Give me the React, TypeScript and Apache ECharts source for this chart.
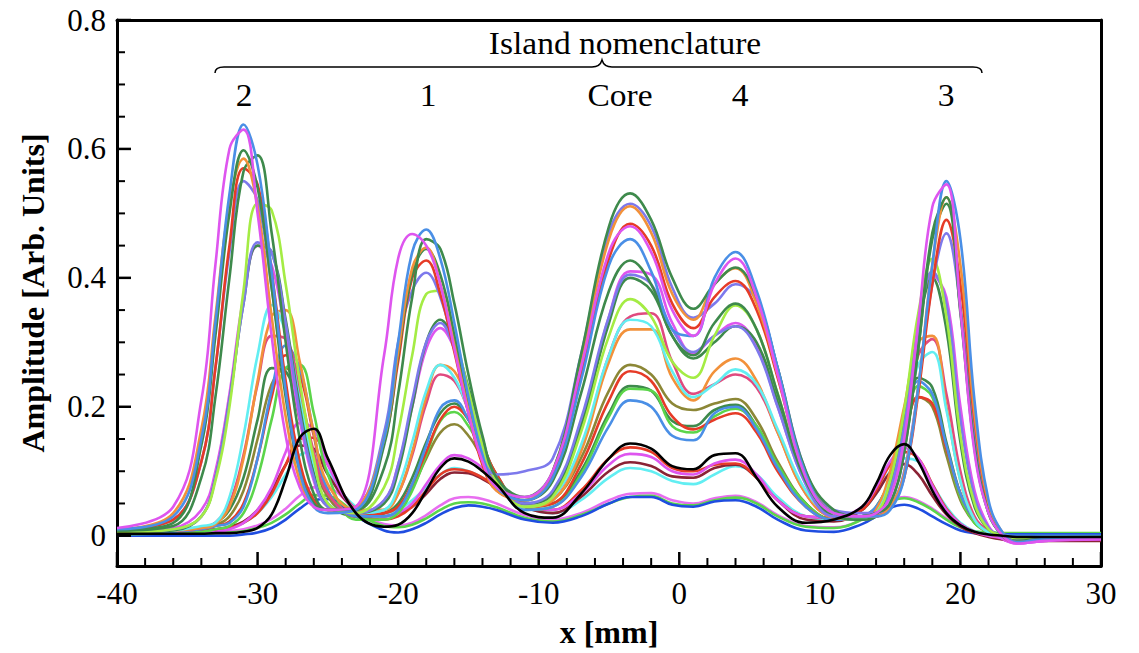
import React, { useEffect, useRef } from "react";
import * as echarts from "echarts";

// Shared sampling positions along x [mm]
const xGrid = [
  -40, -36, -34, -33, -32, -31, -30, -29, -28, -27, -26, -25,
  -23, -21, -20, -19, -18, -17, -16, -15, -14, -13, -11,
  -9, -7, -5, -3.5, -2, -0.5, 1, 2.5, 4, 5.5, 7, 9, 11,
  13, 14, 15, 16, 17, 18, 19, 20, 21, 22, 23, 24, 26, 30,
];

// Tallest profiles
const magentaA = [
  0.012, 0.045, 0.21, 0.42, 0.6, 0.63, 0.5, 0.31, 0.155, 0.075, 0.045, 0.04,
  0.045, 0.28, 0.43, 0.468, 0.45, 0.39, 0.29, 0.19, 0.115, 0.075, 0.06,
  0.1, 0.26, 0.44, 0.48, 0.44, 0.35, 0.31, 0.39, 0.43, 0.37, 0.25, 0.09, 0.035,
  0.03, 0.035, 0.06, 0.15, 0.33, 0.51, 0.545, 0.35, 0.13, 0.035, 0.0, -0.012, -0.008, -0.005,
];
const blueA = [
  0.01, 0.03, 0.15, 0.33, 0.53, 0.638, 0.575, 0.41, 0.225, 0.1, 0.045, 0.035,
  0.04, 0.15, 0.3, 0.44, 0.475, 0.43, 0.33, 0.215, 0.125, 0.075, 0.055,
  0.09, 0.24, 0.42, 0.46, 0.41, 0.32, 0.31, 0.4, 0.44, 0.38, 0.26, 0.095, 0.035,
  0.03, 0.03, 0.04, 0.09, 0.23, 0.42, 0.55, 0.46, 0.21, 0.055, 0.005, -0.01, -0.005, -0.003,
];
const darkGreenA = [
  0.008, 0.02, 0.14, 0.31, 0.5, 0.598, 0.54, 0.385, 0.215, 0.1, 0.05, 0.04,
  0.04, 0.105, 0.22, 0.37, 0.46, 0.445, 0.36, 0.25, 0.155, 0.09, 0.06,
  0.1, 0.28, 0.48, 0.531, 0.49, 0.4, 0.352, 0.39, 0.416, 0.37, 0.26, 0.1, 0.04,
  0.03, 0.035, 0.05, 0.13, 0.29, 0.47, 0.525, 0.35, 0.14, 0.035, 0.0, -0.01, -0.006, -0.004,
];
const orangeA = [
  0.01, 0.035, 0.165, 0.34, 0.515, 0.585, 0.51, 0.34, 0.185, 0.085, 0.045, 0.04,
  0.045, 0.15, 0.285, 0.415, 0.447, 0.39, 0.295, 0.195, 0.115, 0.07, 0.055,
  0.1, 0.27, 0.46, 0.511, 0.47, 0.375, 0.335, 0.39, 0.415, 0.36, 0.25, 0.095, 0.035,
  0.03, 0.03, 0.045, 0.095, 0.23, 0.42, 0.525, 0.42, 0.19, 0.05, 0.005, -0.01, -0.006, -0.004,
];
const darkGreenB = [
  0.008, 0.015, 0.09, 0.215, 0.4, 0.565, 0.59, 0.47, 0.3, 0.15, 0.065, 0.04,
  0.04, 0.14, 0.28, 0.405, 0.445, 0.405, 0.31, 0.2, 0.12, 0.075, 0.055,
  0.085, 0.22, 0.38, 0.427, 0.39, 0.31, 0.28, 0.33, 0.36, 0.32, 0.22, 0.085, 0.035,
  0.03, 0.035, 0.05, 0.13, 0.29, 0.46, 0.515, 0.345, 0.135, 0.035, 0.0, -0.008, -0.005, -0.004,
];
const redA = [
  0.01, 0.025, 0.115, 0.26, 0.45, 0.57, 0.545, 0.41, 0.24, 0.115, 0.055, 0.04,
  0.045, 0.145, 0.27, 0.4, 0.427, 0.375, 0.285, 0.19, 0.11, 0.07, 0.055,
  0.095, 0.25, 0.43, 0.484, 0.45, 0.36, 0.322, 0.37, 0.395, 0.35, 0.245, 0.095, 0.035,
  0.03, 0.03, 0.045, 0.09, 0.22, 0.39, 0.49, 0.39, 0.18, 0.045, 0.0, -0.01, -0.006, -0.004,
];
const lavenderA = [
  0.01, 0.025, 0.115, 0.26, 0.44, 0.55, 0.52, 0.385, 0.225, 0.105, 0.05, 0.04,
  0.045, 0.16, 0.3, 0.38, 0.408, 0.37, 0.29, 0.195, 0.12, 0.095, 0.1,
  0.12, 0.28, 0.47, 0.515, 0.48, 0.385, 0.338, 0.36, 0.39, 0.365, 0.26, 0.1, 0.04,
  0.035, 0.035, 0.045, 0.1, 0.23, 0.39, 0.469, 0.355, 0.16, 0.045, 0.003, -0.008, -0.005, -0.004,
];

// Second tier
const lightGreenB = [
  0.005, 0.01, 0.03, 0.085, 0.2, 0.38, 0.515, 0.505, 0.39, 0.24, 0.12, 0.05,
  0.035, 0.075, 0.16, 0.28, 0.375, 0.38, 0.315, 0.225, 0.14, 0.085, 0.045,
  0.06, 0.16, 0.31, 0.367, 0.34, 0.27, 0.245, 0.31, 0.357, 0.32, 0.22, 0.09, 0.035,
  0.03, 0.035, 0.085, 0.195, 0.345, 0.43, 0.34, 0.155, 0.05, 0.01, 0.0, -0.005, -0.004, -0.003,
];
const lavenderB = [
  0.005, 0.01, 0.03, 0.09, 0.21, 0.36, 0.455, 0.44, 0.33, 0.19, 0.09, 0.045,
  0.035, 0.055, 0.11, 0.21, 0.3, 0.33, 0.29, 0.22, 0.145, 0.085, 0.05,
  0.07, 0.18, 0.34, 0.405, 0.39, 0.32, 0.285, 0.31, 0.325, 0.29, 0.2, 0.08, 0.03,
  0.03, 0.03, 0.07, 0.17, 0.32, 0.41, 0.36, 0.18, 0.06, 0.012, -0.002, -0.006, -0.004, -0.003,
];
const darkGreenC = [
  0.005, 0.008, 0.03, 0.09, 0.21, 0.36, 0.45, 0.44, 0.335, 0.2, 0.095, 0.045,
  0.035, 0.05, 0.1, 0.2, 0.3, 0.335, 0.3, 0.23, 0.15, 0.09, 0.05,
  0.065, 0.17, 0.33, 0.4, 0.38, 0.31, 0.275, 0.3, 0.325, 0.3, 0.21, 0.085, 0.03,
  0.025, 0.03, 0.08, 0.185, 0.325, 0.4, 0.32, 0.145, 0.045, 0.01, 0.0, -0.004, -0.003, -0.002,
];
const magentaB = [
  0.006, 0.012, 0.04, 0.1, 0.22, 0.37, 0.45, 0.42, 0.31, 0.18, 0.085, 0.045,
  0.035, 0.055, 0.11, 0.2, 0.29, 0.322, 0.29, 0.22, 0.14, 0.085, 0.05,
  0.065, 0.17, 0.34, 0.41, 0.405, 0.33, 0.283, 0.31, 0.33, 0.295, 0.2, 0.08, 0.03,
  0.03, 0.03, 0.065, 0.16, 0.31, 0.405, 0.37, 0.2, 0.07, 0.015, -0.005, -0.012, -0.008, -0.006,
];

// Third tier
const cyanC = [
  0.005, 0.008, 0.015, 0.02, 0.06, 0.155, 0.28, 0.358, 0.315, 0.21, 0.11, 0.05,
  0.035, 0.04, 0.075, 0.145, 0.225, 0.265, 0.245, 0.195, 0.135, 0.085, 0.045,
  0.06, 0.14, 0.28, 0.335, 0.325, 0.255, 0.215, 0.235, 0.258, 0.235, 0.165, 0.07, 0.03,
  0.025, 0.035, 0.085, 0.17, 0.265, 0.285, 0.195, 0.085, 0.025, 0.005, 0.0, -0.003, -0.002, -0.002,
];
const orangeC = [
  0.005, 0.008, 0.012, 0.018, 0.045, 0.12, 0.24, 0.34, 0.35, 0.27, 0.16, 0.08,
  0.04, 0.04, 0.065, 0.13, 0.215, 0.265, 0.255, 0.205, 0.145, 0.09, 0.045,
  0.055, 0.13, 0.27, 0.32, 0.32, 0.245, 0.21, 0.255, 0.275, 0.24, 0.16, 0.065, 0.028,
  0.025, 0.04, 0.1, 0.2, 0.3, 0.31, 0.2, 0.085, 0.025, 0.005, -0.002, -0.006, -0.005, -0.004,
];
const crimsonC = [
  0.005, 0.008, 0.012, 0.02, 0.05, 0.125, 0.235, 0.31, 0.305, 0.225, 0.13, 0.065,
  0.035, 0.04, 0.065, 0.125, 0.205, 0.25, 0.24, 0.195, 0.14, 0.09, 0.045,
  0.06, 0.135, 0.28, 0.34, 0.345, 0.27, 0.22, 0.235, 0.25, 0.23, 0.16, 0.065, 0.028,
  0.025, 0.035, 0.085, 0.175, 0.28, 0.305, 0.22, 0.1, 0.03, 0.008, 0.0, -0.004, -0.003, -0.003,
];

// Fourth tier
const blueD = [
  0.004, 0.006, 0.01, 0.015, 0.02, 0.045, 0.12, 0.225, 0.295, 0.26, 0.16, 0.07,
  0.03, 0.03, 0.04, 0.08, 0.14, 0.198, 0.21, 0.18, 0.135, 0.09, 0.04,
  0.045, 0.09, 0.17, 0.21, 0.2, 0.155, 0.148, 0.19, 0.2, 0.165, 0.105, 0.045, 0.025,
  0.03, 0.045, 0.085, 0.16, 0.24, 0.22, 0.14, 0.065, 0.025, 0.008, 0.002, 0.0, 0.0, 0.0,
];
const redD = [
  0.004, 0.006, 0.01, 0.015, 0.022, 0.05, 0.12, 0.215, 0.28, 0.25, 0.155, 0.07,
  0.03, 0.035, 0.045, 0.08, 0.13, 0.18, 0.2, 0.18, 0.14, 0.095, 0.045,
  0.05, 0.11, 0.21, 0.255, 0.24, 0.185, 0.165, 0.18, 0.19, 0.16, 0.1, 0.045, 0.025,
  0.03, 0.04, 0.075, 0.145, 0.215, 0.205, 0.135, 0.065, 0.025, 0.008, 0.0, -0.004, -0.004, -0.004,
];
const greenD = [
  0.002, 0.004, 0.006, 0.01, 0.015, 0.035, 0.09, 0.18, 0.26, 0.265, 0.19, 0.095,
  0.025, 0.025, 0.035, 0.07, 0.125, 0.178, 0.192, 0.17, 0.13, 0.09, 0.04,
  0.045, 0.095, 0.185, 0.228, 0.225, 0.17, 0.16, 0.185, 0.197, 0.17, 0.11, 0.05, 0.025,
  0.028, 0.04, 0.08, 0.155, 0.232, 0.215, 0.135, 0.06, 0.02, 0.006, 0.0, -0.003, -0.003, -0.003,
];
const darkGreenD = [
  0.004, 0.006, 0.012, 0.02, 0.04, 0.09, 0.18, 0.26, 0.255, 0.18, 0.1, 0.05,
  0.03, 0.035, 0.05, 0.09, 0.145, 0.19, 0.205, 0.18, 0.14, 0.095, 0.045,
  0.05, 0.1, 0.19, 0.232, 0.225, 0.178, 0.17, 0.195, 0.203, 0.17, 0.11, 0.05, 0.025,
  0.03, 0.045, 0.09, 0.17, 0.245, 0.23, 0.145, 0.065, 0.022, 0.006, 0.0, -0.002, -0.002, -0.002,
];
const oliveD = [
  0.004, 0.006, 0.01, 0.016, 0.03, 0.07, 0.15, 0.235, 0.26, 0.21, 0.125, 0.06,
  0.03, 0.035, 0.045, 0.075, 0.12, 0.16, 0.173, 0.155, 0.12, 0.085, 0.045,
  0.055, 0.12, 0.225, 0.265, 0.25, 0.205, 0.195, 0.205, 0.212, 0.18, 0.115, 0.05, 0.025,
  0.028, 0.04, 0.08, 0.15, 0.215, 0.2, 0.125, 0.055, 0.02, 0.005, 0.0, -0.002, -0.002, -0.002,
];

// Fifth tier
const blackE = [
  0.003, 0.003, 0.003, 0.004, 0.004, 0.006, 0.012, 0.033, 0.088, 0.152, 0.166, 0.12,
  0.035, 0.014, 0.017, 0.035, 0.07, 0.105, 0.12, 0.115, 0.1, 0.08, 0.035,
  0.028, 0.065, 0.12, 0.143, 0.135, 0.108, 0.103, 0.125, 0.128, 0.09, 0.045, 0.02, 0.025,
  0.045, 0.08, 0.125, 0.142, 0.115, 0.07, 0.035, 0.016, 0.006, 0.002, 0.0, -0.002, -0.002, -0.002,
];
const magentaE = [
  0.004, 0.004, 0.005, 0.006, 0.01, 0.02, 0.04, 0.075, 0.13, 0.175, 0.165, 0.11,
  0.04, 0.03, 0.035, 0.05, 0.08, 0.11, 0.125, 0.12, 0.105, 0.085, 0.05,
  0.04, 0.065, 0.11, 0.127, 0.122, 0.1, 0.095, 0.112, 0.118, 0.095, 0.055, 0.03, 0.028,
  0.045, 0.075, 0.115, 0.136, 0.12, 0.078, 0.04, 0.018, 0.006, 0.0, -0.004, -0.01, -0.006, -0.004,
];
const redE = [
  0.006, 0.006, 0.007, 0.008, 0.012, 0.02, 0.035, 0.065, 0.11, 0.15, 0.152, 0.11,
  0.04, 0.025, 0.03, 0.045, 0.07, 0.095, 0.103, 0.1, 0.09, 0.075, 0.045,
  0.04, 0.07, 0.12, 0.137, 0.13, 0.105, 0.1, 0.11, 0.112, 0.09, 0.055, 0.03, 0.028,
  0.04, 0.07, 0.11, 0.13, 0.12, 0.08, 0.042, 0.018, 0.006, 0.0, -0.002, -0.004, -0.004, -0.004,
];
const maroonE = [
  0.005, 0.006, 0.008, 0.01, 0.014, 0.022, 0.04, 0.07, 0.11, 0.14, 0.135, 0.095,
  0.04, 0.03, 0.035, 0.045, 0.065, 0.088, 0.098, 0.097, 0.088, 0.075, 0.045,
  0.035, 0.06, 0.1, 0.114, 0.108, 0.092, 0.09, 0.105, 0.11, 0.09, 0.055, 0.025, 0.022,
  0.04, 0.065, 0.098, 0.111, 0.095, 0.062, 0.033, 0.014, 0.004, -0.002, -0.006, -0.008, -0.008, -0.008,
];
const cyanE = [
  0.004, 0.005, 0.006, 0.008, 0.012, 0.02, 0.035, 0.06, 0.095, 0.125, 0.13, 0.1,
  0.045, 0.035, 0.04, 0.055, 0.075, 0.095, 0.105, 0.1, 0.09, 0.075, 0.045,
  0.035, 0.055, 0.09, 0.105, 0.1, 0.085, 0.08, 0.095, 0.108, 0.095, 0.06, 0.03, 0.025,
  0.04, 0.065, 0.1, 0.12, 0.115, 0.08, 0.045, 0.02, 0.007, 0.002, 0.0, -0.002, -0.002, -0.002,
];

// Lowest tier
const blueF = [
  0.0, 0.0, 0.0, 0.0, 0.0, 0.002, 0.005, 0.012, 0.025, 0.042, 0.055, 0.057,
  0.03, 0.008, 0.005, 0.01, 0.02, 0.033, 0.043, 0.047, 0.045, 0.04, 0.025,
  0.02, 0.03, 0.05, 0.06, 0.06, 0.048, 0.045, 0.053, 0.055, 0.045, 0.025, 0.008, 0.006,
  0.018, 0.03, 0.043, 0.048, 0.042, 0.03, 0.018, 0.008, 0.004, 0.002, 0.002, 0.002, 0.002, 0.002,
];
const greenF = [
  0.003, 0.003, 0.003, 0.004, 0.005, 0.007, 0.012, 0.02, 0.033, 0.05, 0.063, 0.062,
  0.035, 0.015, 0.013, 0.017, 0.027, 0.04, 0.05, 0.052, 0.05, 0.044, 0.028,
  0.022, 0.032, 0.05, 0.06, 0.062, 0.05, 0.047, 0.055, 0.059, 0.05, 0.03, 0.014, 0.012,
  0.025, 0.04, 0.053, 0.058, 0.052, 0.04, 0.025, 0.013, 0.007, 0.005, 0.004, 0.004, 0.004, 0.004,
];
const magentaF = [
  0.004, 0.004, 0.004, 0.005, 0.007, 0.01, 0.016, 0.026, 0.042, 0.062, 0.075, 0.074,
  0.04, 0.018, 0.016, 0.02, 0.032, 0.047, 0.058, 0.06, 0.057, 0.05, 0.032,
  0.025, 0.035, 0.055, 0.065, 0.066, 0.055, 0.05, 0.058, 0.062, 0.052, 0.032, 0.015, 0.013,
  0.025, 0.04, 0.055, 0.06, 0.054, 0.042, 0.027, 0.014, 0.005, 0.0, -0.006, -0.012, -0.008, -0.006,
];

// Axis ranges and tick positions
const X_MIN = -40;
const X_MAX = 30;
const Y_MIN = -0.047;
const Y_MAX = 0.8;
const xMajorTicks = [-40, -30, -20, -10, 0, 10, 20, 30];
const xMinorTicks = [
  -38, -36, -34, -32, -28, -26, -24, -22, -18, -16, -14, -12, -8, -6, -4, -2,
  2, 4, 6, 8, 12, 14, 16, 18, 22, 24, 26, 28,
];
const yMajorTicks = [0, 0.2, 0.4, 0.6, 0.8];
const yMinorTicks = [0.05, 0.1, 0.15, 0.25, 0.3, 0.35, 0.45, 0.5, 0.55, 0.65, 0.7, 0.75];

// Island labels above the profiles
const islandLabels = ["2", "1", "Core", "4", "3"];
const islandLabelX = [244, 428, 620, 740, 946];

const C = {
  magenta: "#de55ef",
  blue: "#4a8fe6",
  darkGreen: "#3e8a4c",
  orange: "#f2913a",
  red: "#e63b27",
  lavender: "#7d79ec",
  lightGreen: "#a4ec44",
  cyan: "#62eef2",
  crimson: "#e04a7f",
  olive: "#8c8736",
  maroon: "#8a2335",
  black: "#000000",
  brightBlue: "#1f4de0",
  green: "#5bd54a",
  lightMagenta: "#e86ef0",
};

const traces: { values: number[]; color: string }[] = [
  { values: magentaF, color: C.lightMagenta },
  { values: greenF, color: C.green },
  { values: blueF, color: C.brightBlue },
  { values: cyanE, color: C.cyan },
  { values: maroonE, color: C.maroon },
  { values: redE, color: C.red },
  { values: magentaE, color: C.magenta },
  { values: oliveD, color: C.olive },
  { values: darkGreenD, color: C.darkGreen },
  { values: greenD, color: C.green },
  { values: redD, color: C.red },
  { values: blueD, color: C.blue },
  { values: crimsonC, color: C.crimson },
  { values: orangeC, color: C.orange },
  { values: cyanC, color: C.cyan },
  { values: magentaB, color: C.magenta },
  { values: darkGreenC, color: C.darkGreen },
  { values: lavenderB, color: C.lavender },
  { values: lightGreenB, color: C.lightGreen },
  { values: lavenderA, color: C.lavender },
  { values: redA, color: C.red },
  { values: darkGreenB, color: C.darkGreen },
  { values: orangeA, color: C.orange },
  { values: darkGreenA, color: C.darkGreen },
  { values: blueA, color: C.blue },
  { values: magentaA, color: C.magenta },
  { values: blackE, color: C.black },
];

const FONT = "'Liberation Serif', 'Times New Roman', Times, serif";

// Plot area in pixels
const GRID = { left: 117, right: 38, top: 20, bottom: 87 };
const WIDTH = 1139;
const HEIGHT = 653;
const PLOT_W = WIDTH - GRID.left - GRID.right;
const PLOT_H = HEIGHT - GRID.top - GRID.bottom;
// Data units per pixel, used to give tick marks a fixed on-screen length
const X_PER_PX = (X_MAX - X_MIN) / PLOT_W;
const Y_PER_PX = (Y_MAX - Y_MIN) / PLOT_H;

// Curly brace spanning the islands (local coordinates)
const braceD =
  "M0,9 Q0,3 9,3 L377,3 Q385,3 387,-4 Q389,3 397,3 L758,3 Q767,3 767,9";
echarts.graphic.registerShape("brace", echarts.graphic.extendPath(braceD, {}));

const frameLine = { show: true, onZero: false, lineStyle: { color: "#000", width: 3 } };

// A short inward tick drawn as a two-point line on the value axes
function tickLine(a: number[], b: number[], width: number) {
  return {
    type: "line" as const,
    data: [a, b],
    showSymbol: false,
    symbol: "none",
    silent: true,
    clip: false,
    z: 10,
    lineStyle: { width, color: "#000" },
  };
}

export default function App() {
  const ref = useRef<HTMLDivElement>(null);

  useEffect(() => {
    if (!ref.current) return;
    const chart = echarts.init(ref.current, undefined, { renderer: "svg" });

    const series: any[] = traces.map((t) => ({
      type: "line" as const,
      data: xGrid.map((x, i) => [x, t.values[i]]),
      smooth: 0.4,
      showSymbol: false,
      silent: true,
      lineStyle: { width: 2.6, color: t.color },
      itemStyle: { color: t.color },
    }));

    xMajorTicks.forEach((v) =>
      series.push(tickLine([v, Y_MIN], [v, Y_MIN + 14 * Y_PER_PX], 2.5))
    );
    xMinorTicks.forEach((v) =>
      series.push(tickLine([v, Y_MIN], [v, Y_MIN + 8 * Y_PER_PX], 2))
    );
    yMajorTicks.forEach((v) =>
      series.push(tickLine([X_MIN, v], [X_MIN + 14 * X_PER_PX, v], 2.5))
    );
    yMinorTicks.forEach((v) =>
      series.push(tickLine([X_MIN, v], [X_MIN + 8 * X_PER_PX, v], 2))
    );

    const yCommon = {
      type: "value" as const,
      min: Y_MIN,
      max: Y_MAX,
      splitLine: { show: false },
    };

    chart.setOption({
      animation: false,
      backgroundColor: "#ffffff",
      textStyle: { fontFamily: FONT },
      grid: { ...GRID, show: false },
      xAxis: [
        {
          type: "value",
          min: X_MIN,
          max: X_MAX,
          interval: 10,
          name: "x [mm]",
          nameLocation: "middle",
          nameGap: 50,
          nameTextStyle: { fontFamily: FONT, fontWeight: "bold", fontSize: 32, color: "#000" },
          axisLine: frameLine,
          axisTick: { show: false },
          axisLabel: { show: true, fontFamily: FONT, fontSize: 31, color: "#000", margin: 12 },
          splitLine: { show: false },
        },
        {
          type: "value",
          position: "top",
          min: X_MIN,
          max: X_MAX,
          interval: 10,
          axisLine: frameLine,
          axisTick: { show: false },
          axisLabel: { show: false },
          splitLine: { show: false },
        },
      ],
      yAxis: [
        {
          ...yCommon,
          name: "Amplitude [Arb. Units]",
          nameLocation: "middle",
          nameGap: 68,
          nameTextStyle: { fontFamily: FONT, fontWeight: "bold", fontSize: 32, color: "#000" },
          axisLine: frameLine,
          axisTick: { show: false },
          axisLabel: {
            show: true,
            fontFamily: FONT,
            fontSize: 31,
            color: "#000",
            margin: 11,
            customValues: yMajorTicks,
            formatter: (v: number) => (v === 0 ? "0" : v.toFixed(1)),
          },
        },
        {
          ...yCommon,
          position: "right",
          axisLine: frameLine,
          axisTick: { show: false },
          axisLabel: { show: false },
        },
      ],
      series,
      graphic: [
        {
          type: "text",
          x: 625,
          y: 43,
          scaleX: 1.08,
          style: {
            text: "Island nomenclature",
            fontFamily: FONT,
            fontSize: 31,
            fill: "#000",
            textAlign: "center",
            textVerticalAlign: "middle",
          },
        },
        {
          type: "brace",
          x: 215,
          y: 64,
          style: { stroke: "#000", fill: "none", lineWidth: 1.5 },
        },
        ...islandLabels.map((label, i) => ({
          type: "text",
          x: islandLabelX[i],
          y: 95,
          scaleX: 1.08,
          style: {
            text: label,
            fontFamily: FONT,
            fontSize: 31,
            fill: "#000",
            textAlign: "center",
            textVerticalAlign: "middle",
          },
        })),
      ],
    });

    return () => chart.dispose();
  }, []);

  return (
    <div
      ref={ref}
      style={{ position: "fixed", left: 0, top: 0, width: WIDTH, height: HEIGHT, background: "#fff" }}
    />
  );
}
